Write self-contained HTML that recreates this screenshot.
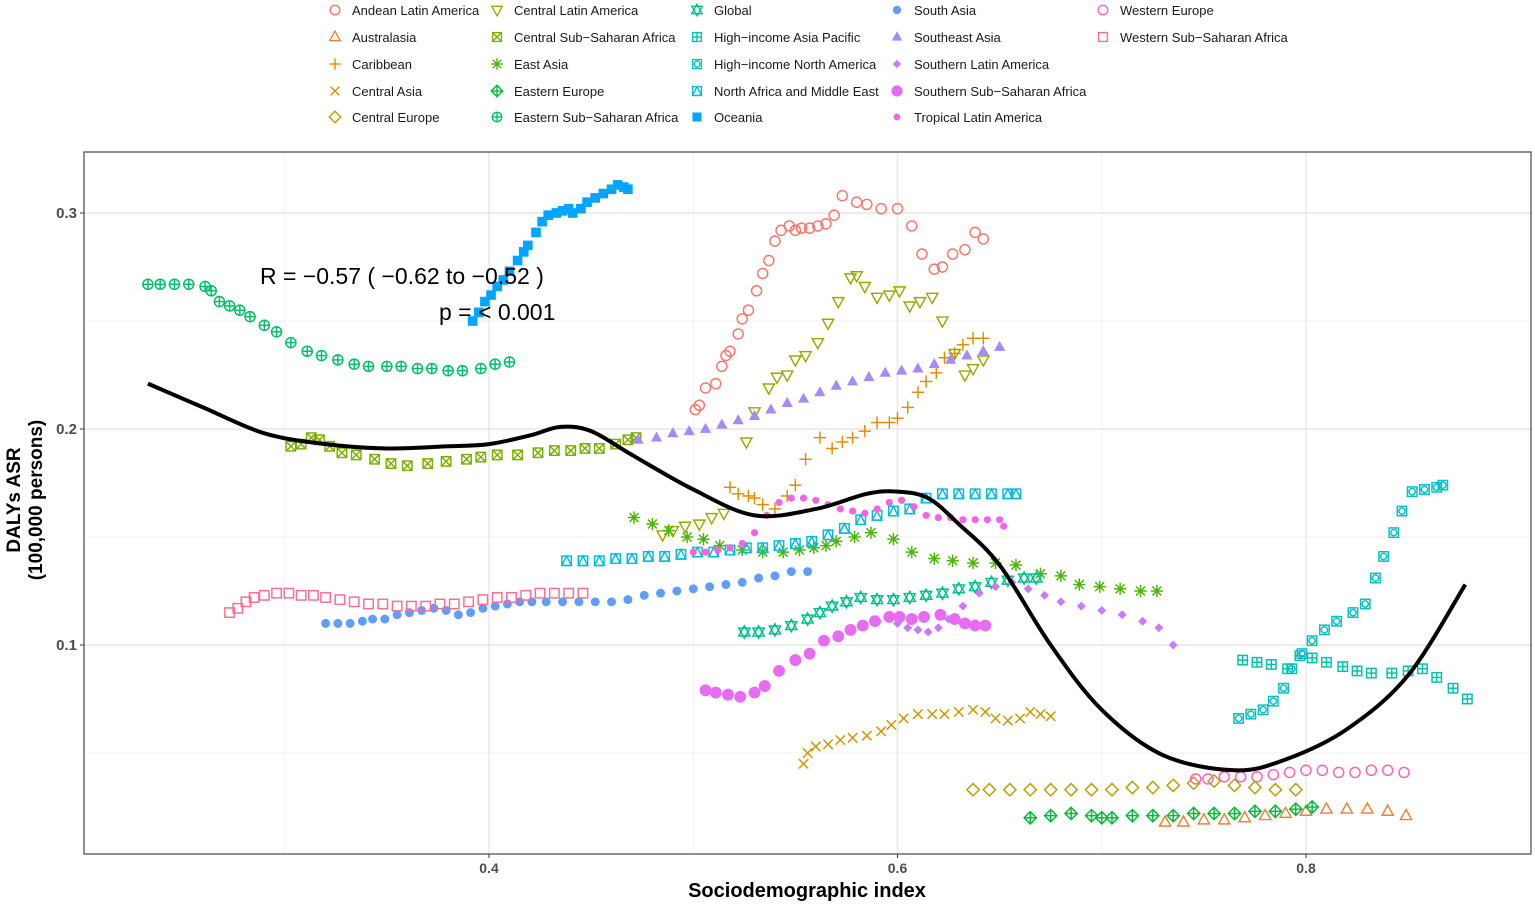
<!DOCTYPE html>
<html><head><meta charset="utf-8">
<style>
html,body{margin:0;padding:0;background:#fff;}
svg{display:block;font-family:"Liberation Sans",Arial,sans-serif;}
</style></head>
<body>
<svg id="chart" width="1535" height="906" viewBox="0 0 1535 906">
<g id="grid"></g>
<g id="series"></g>
<g id="axes"></g>
<g id="legend"></g>
<text x="260" y="284" font-size="23" fill="#000">R = −0.57 ( −0.62 to −0.52 )</text>
<text x="439" y="320" font-size="23" fill="#000">p = &lt; 0.001</text>
<text x="807" y="897" font-size="20" font-weight="bold" text-anchor="middle" fill="#000">Sociodemographic index</text>
<text transform="translate(30,500) rotate(-90)" font-size="19" font-weight="bold" text-anchor="middle" fill="#000"><tspan x="0" y="-10">DALYs ASR</tspan><tspan x="0" y="12">(100,000 persons)</tspan></text>
</svg>
<script>
const xTicks=[0.4,0.6,0.8];
const xTickLabels=["0.4","0.6","0.8"];
const yTicks=[0.1,0.2,0.3];
const yTickLabels=["0.1","0.2","0.3"];
const seriesNames=["Andean Latin America","Australasia","Caribbean","Central Asia","Central Europe","Central Latin America","Central Sub−Saharan Africa","East Asia","Eastern Europe","Eastern Sub−Saharan Africa","Global","High−income Asia Pacific","High−income North America","North Africa and Middle East","Oceania","South Asia","Southeast Asia","Southern Latin America","Southern Sub−Saharan Africa","Tropical Latin America","Western Europe","Western Sub−Saharan Africa"];
const andeanX=[.501,.503,.506,.511,.514,.516,.518,.522,.524,.527,.531,.534,.537,.540,.543,.547,.550,.553,.557,.561,.565,.569,.573,.580,.585,.592,.600,.607,.612,.618,.622,.627,.633,.638,.642];
const andeanY=[.209,.211,.219,.221,.229,.234,.236,.244,.251,.255,.264,.272,.278,.287,.292,.294,.292,.293,.293,.294,.295,.299,.308,.305,.304,.302,.302,.294,.281,.274,.275,.281,.283,.291,.288];
const australasiaX=[.731,.740,.750,.760,.770,.780,.790,.800,.810,.820,.830,.840,.849];
const australasiaY=[.018,.018,.019,.019,.020,.021,.022,.023,.024,.024,.024,.023,.021];
const caribbeanX=[.518,.522,.527,.530,.534,.540,.546,.550,.555,.562,.568,.573,.578,.584,.590,.596,.600,.605,.610,.614,.619,.623,.628,.632,.637,.642];
const caribbeanY=[.173,.170,.169,.168,.165,.163,.169,.174,.186,.196,.191,.194,.196,.199,.203,.203,.205,.210,.217,.222,.226,.233,.235,.239,.242,.242];
const centralAsiaX=[.554,.556,.560,.566,.572,.578,.585,.592,.597,.603,.610,.617,.623,.630,.637,.643,.648,.654,.660,.665,.670,.675];
const centralAsiaY=[.045,.050,.053,.054,.056,.057,.058,.060,.063,.066,.068,.068,.068,.069,.070,.069,.066,.065,.066,.069,.068,.067];
const centralEuropeX=[.637,.645,.655,.665,.675,.685,.695,.705,.715,.725,.735,.745,.755,.765,.775,.785,.795];
const centralEuropeY=[.033,.033,.033,.033,.033,.033,.033,.033,.034,.034,.035,.036,.037,.035,.034,.033,.033];
const centralLatinX=[.485,.490,.496,.503,.509,.515,.526,.530,.537,.541,.546,.550,.555,.561,.566,.571,.577,.580,.584,.590,.596,.601,.606,.611,.617,.622,.628,.633,.637,.642];
const centralLatinY=[.151,.153,.155,.156,.159,.161,.194,.208,.219,.224,.225,.232,.234,.240,.249,.259,.270,.271,.266,.261,.262,.264,.257,.259,.261,.250,.235,.225,.228,.232];
const centralSSAX=[.303,.308,.313,.317,.322,.328,.335,.344,.352,.360,.370,.379,.389,.396,.404,.414,.424,.432,.440,.447,.454,.462,.468,.472];
const centralSSAY=[.192,.193,.196,.195,.192,.189,.188,.186,.184,.183,.184,.185,.186,.187,.188,.188,.189,.190,.190,.191,.191,.193,.195,.196];
const eastAsiaX=[.471,.480,.488,.497,.505,.513,.524,.534,.544,.552,.559,.565,.570,.579,.587,.598,.607,.618,.627,.637,.648,.658,.670,.680,.689,.699,.709,.719,.727];
const eastAsiaY=[.159,.156,.153,.150,.149,.146,.144,.143,.143,.144,.145,.146,.148,.150,.152,.149,.143,.140,.139,.138,.138,.137,.133,.132,.128,.127,.126,.125,.125];
const easternEuropeX=[.665,.675,.685,.695,.700,.705,.715,.725,.735,.745,.755,.765,.775,.785,.795,.803];
const easternEuropeY=[.020,.021,.022,.021,.020,.020,.021,.021,.021,.022,.022,.022,.023,.023,.024,.025];
const easternSSAX=[.233,.239,.246,.253,.261,.264,.268,.273,.278,.283,.290,.296,.303,.311,.318,.326,.334,.341,.350,.357,.365,.372,.380,.387,.396,.403,.410];
const easternSSAY=[.267,.267,.267,.267,.266,.264,.259,.257,.255,.252,.248,.245,.240,.236,.234,.232,.230,.229,.229,.229,.228,.228,.227,.227,.228,.230,.231];
const globalX=[.525,.532,.540,.548,.556,.562,.568,.575,.582,.590,.598,.606,.614,.622,.630,.638,.646,.654,.662,.668];
const globalY=[.106,.106,.107,.109,.112,.115,.118,.120,.122,.121,.121,.122,.123,.124,.126,.127,.129,.130,.131,.131];
const hiAsiaPacificX=[.769,.776,.783,.791,.797,.803,.810,.818,.825,.832,.842,.850,.857,.864,.872,.879];
const hiAsiaPacificY=[.093,.092,.091,.089,.095,.094,.092,.090,.088,.087,.087,.088,.089,.085,.080,.075];
const hiNorthAmericaX=[.767,.773,.779,.784,.789,.793,.798,.803,.809,.815,.823,.829,.834,.838,.843,.847,.852,.858,.864,.867];
const hiNorthAmericaY=[.066,.068,.070,.074,.080,.089,.096,.102,.107,.111,.115,.119,.131,.141,.152,.162,.171,.172,.173,.174];
const nameX=[.438,.446,.454,.462,.470,.478,.486,.494,.502,.510,.518,.526,.534,.542,.550,.558,.566,.574,.582,.590,.598,.606,.614,.622,.630,.638,.646,.654,.658];
const nameY=[.139,.139,.139,.140,.140,.141,.141,.142,.143,.143,.144,.145,.145,.146,.147,.148,.151,.154,.158,.160,.162,.163,.168,.170,.170,.170,.170,.170,.170];
const oceaniaX=[.392,.395,.398,.401,.404,.407,.410,.414,.417,.419,.423,.426,.429,.433,.436,.439,.441,.445,.448,.452,.456,.460,.463,.466,.468];
const oceaniaY=[.250,.254,.259,.262,.266,.269,.273,.278,.282,.285,.291,.296,.299,.300,.301,.302,.300,.302,.305,.307,.309,.311,.313,.312,.311];
const southAsiaX=[.320,.326,.332,.338,.343,.349,.355,.361,.367,.373,.379,.385,.391,.397,.403,.409,.415,.421,.428,.436,.444,.452,.460,.468,.476,.484,.492,.500,.508,.516,.524,.532,.540,.548,.556];
const southAsiaY=[.110,.110,.110,.111,.112,.112,.114,.115,.116,.117,.116,.114,.115,.117,.118,.119,.120,.120,.120,.120,.120,.120,.120,.121,.123,.124,.125,.126,.127,.128,.129,.131,.132,.134,.134];
const southeastAsiaX=[.473,.482,.490,.498,.506,.514,.522,.530,.538,.546,.554,.562,.570,.578,.586,.594,.602,.610,.618,.626,.634,.642,.650];
const southeastAsiaY=[.195,.196,.198,.199,.200,.202,.204,.206,.209,.212,.214,.217,.220,.222,.224,.226,.227,.228,.230,.232,.234,.236,.238];
const southernLatinX=[.600,.605,.610,.615,.620,.625,.632,.640,.648,.656,.664,.672,.680,.690,.700,.710,.720,.728,.735];
const southernLatinY=[.110,.108,.107,.106,.108,.112,.118,.124,.127,.129,.126,.123,.120,.118,.116,.114,.111,.108,.100];
const southernSSAX=[.506,.511,.517,.523,.530,.535,.542,.550,.557,.564,.571,.577,.583,.589,.596,.601,.607,.613,.621,.628,.633,.638,.643];
const southernSSAY=[.079,.078,.077,.076,.078,.081,.088,.093,.096,.102,.104,.107,.109,.111,.113,.113,.112,.113,.114,.112,.110,.109,.109];
const tropicalLatinX=[.500,.506,.512,.518,.524,.530,.536,.542,.548,.554,.560,.566,.572,.578,.584,.590,.596,.602,.608,.614,.620,.626,.632,.638,.644,.650,.652];
const tropicalLatinY=[.143,.143,.144,.145,.147,.152,.160,.166,.168,.168,.167,.165,.163,.162,.161,.163,.166,.167,.164,.160,.159,.159,.158,.158,.158,.158,.155];
const westernEuropeX=[.746,.752,.760,.768,.776,.784,.792,.800,.808,.816,.824,.832,.840,.848];
const westernEuropeY=[.038,.038,.039,.039,.039,.040,.041,.042,.042,.041,.041,.042,.042,.041];
const westernSSAX=[.273,.277,.281,.285,.290,.296,.302,.308,.314,.320,.327,.334,.341,.348,.355,.362,.369,.376,.383,.390,.397,.404,.411,.418,.425,.432,.439,.446];
const westernSSAY=[.115,.117,.120,.122,.123,.124,.124,.123,.123,.122,.121,.120,.119,.119,.118,.118,.118,.119,.119,.120,.121,.122,.122,.123,.124,.124,.124,.124];
const fitX=[.233,.260,.290,.320,.350,.380,.400,.420,.435,.450,.470,.500,.530,.560,.585,.600,.615,.630,.650,.675,.700,.730,.765,.790,.820,.850,.878];
const fitY=[.221,.210,.198,.193,.191,.192,.193,.197,.201,.199,.188,.172,.160,.163,.170,.171,.168,.156,.137,.100,.070,.049,.042,.047,.061,.086,.128];

const seriesX=[andeanX,australasiaX,caribbeanX,centralAsiaX,centralEuropeX,centralLatinX,centralSSAX,eastAsiaX,easternEuropeX,easternSSAX,globalX,hiAsiaPacificX,hiNorthAmericaX,nameX,oceaniaX,southAsiaX,southeastAsiaX,southernLatinX,southernSSAX,tropicalLatinX,westernEuropeX,westernSSAX];
const seriesY=[andeanY,australasiaY,caribbeanY,centralAsiaY,centralEuropeY,centralLatinY,centralSSAY,eastAsiaY,easternEuropeY,easternSSAY,globalY,hiAsiaPacificY,hiNorthAmericaY,nameY,oceaniaY,southAsiaY,southeastAsiaY,southernLatinY,southernSSAY,tropicalLatinY,westernEuropeY,westernSSAY];
const colors=["#F8766D","#EC8239","#DE8C00","#CD9600","#B79F00","#9DA700","#7CAE00","#49B500","#00BA38","#00BE67","#00C08B","#00C1AA","#00BFC4","#00BBDC","#00A5FF","#619CFF","#A58AFF","#C77CFF","#E76BF3","#F564E3","#FF63B6","#FF6C91"];
const shapes=["cO","tU","plus","x","dia","tD","sqX","ast","diaP","cP","star","sqP","sqC","sqT","sqF","cF","tF","dF","cB","cS","cO","sqO"];

const NS="http://www.w3.org/2000/svg";
const L=84,R=1531,T=152,B=854;
function sx(v){return 489+(v-0.4)*2042.5;}
function sy(v){return 213+(0.3-v)*2160;}
function mk(tag,attrs,parent){const e=document.createElementNS(NS,tag);for(const k in attrs)e.setAttribute(k,attrs[k]);if(parent)parent.appendChild(e);return e;}

const grid=document.getElementById('grid');
const bg=mk('rect',{x:L,y:T,width:R-L,height:B-T,fill:'#fff'},grid);


[0.3,0.5,0.7].forEach(v=>{const l=mk('line',{x1:sx(v),x2:sx(v),y1:T,y2:B,stroke:'#f2f2f2','stroke-width':1},grid);});
[0.05,0.15,0.25].forEach(v=>{const l=mk('line',{x1:L,x2:R,y1:sy(v),y2:sy(v),stroke:'#f2f2f2','stroke-width':1},grid);});
xTicks.forEach(v=>{const l=mk('line',{x1:sx(v),x2:sx(v),y1:T,y2:B,stroke:'#e6e6e6','stroke-width':1.4},grid);});
yTicks.forEach(v=>{const l=mk('line',{x1:L,x2:R,y1:sy(v),y2:sy(v),stroke:'#e6e6e6','stroke-width':1.4},grid);});

function marker(shape,cx,cy,c,parent,s){
  s=s||1;const g=mk('g',{transform:`translate(${cx},${cy}) scale(${s})`},parent);
  const st={fill:'none',stroke:c,'stroke-width':1.3};
  const tri=(d)=>mk('polygon',Object.assign({points:d>0?"0,-5.5 5,3.5 -5,3.5":"0,5.5 5,-3.5 -5,-3.5"},st),g);
  const sq=()=>mk('rect',Object.assign({x:-4.2,y:-4.2,width:8.4,height:8.4},st),g);
  const pl=(r)=>{mk('line',Object.assign({x1:-r,x2:r,y1:0,y2:0},st),g);mk('line',Object.assign({x1:0,x2:0,y1:-r,y2:r},st),g);};
  const xx=(r)=>{mk('line',Object.assign({x1:-r,x2:r,y1:-r,y2:r},st),g);mk('line',Object.assign({x1:-r,x2:r,y1:r,y2:-r},st),g);};
  const dia=()=>mk('polygon',Object.assign({points:"0,-5.5 5.5,0 0,5.5 -5.5,0"},st),g);
  switch(shape){
    case 'cO':mk('circle',Object.assign({r:4.5},st),g);break;
    case 'tU':tri(1);break;
    case 'tD':tri(-1);break;
    case 'plus':pl(5.5);break;
    case 'x':xx(4.2);break;
    case 'dia':dia();break;
    case 'sqX':sq();xx(4.2);break;
    case 'ast':pl(5.5);xx(4);break;
    case 'diaP':dia();pl(5.5);break;
    case 'cP':mk('circle',Object.assign({r:4.5},st),g);pl(4.5);break;
    case 'star':tri(1);tri(-1);break;
    case 'sqP':sq();pl(4.2);break;
    case 'sqC':sq();mk('circle',Object.assign({r:2.8},st),g);break;
    case 'sqT':sq();mk('polygon',Object.assign({points:"0,-4.2 4.2,4.2 -4.2,4.2"},st),g);break;
    case 'sqF':mk('rect',{x:-4.3,y:-4.3,width:8.6,height:8.6,fill:c},g);break;
    case 'cF':mk('circle',{r:4,fill:c},g);break;
    case 'tF':mk('polygon',{points:"0,-5.5 5,3.5 -5,3.5",fill:c},g);break;
    case 'dF':mk('polygon',{points:"0,-4 4,0 0,4 -4,0",fill:c},g);break;
    case 'cB':mk('circle',{r:5.3,fill:c},g);break;
    case 'cS':mk('circle',{r:3.2,fill:c},g);break;
    case 'sqO':sq();break;
  }
  return g;
}

const sl=document.getElementById('series');
seriesX.forEach((xs,i)=>{
  const g=mk('g',{},sl);
  
  
  xs.forEach((xv,j)=>{
    const m=marker(shapes[i],sx(xv),sy(seriesY[i][j]),colors[i],g,1.12);
    
    
  });
});

const pts=fitX.map((v,i)=>[sx(v),sy(fitY[i])]);
let d=`M${pts[0][0]},${pts[0][1]}`;
for(let i=0;i<pts.length-1;i++){
  const p0=pts[Math.max(0,i-1)],p1=pts[i],p2=pts[i+1],p3=pts[Math.min(pts.length-1,i+2)];
  const c1=[p1[0]+(p2[0]-p0[0])/6,p1[1]+(p2[1]-p0[1])/6],c2=[p2[0]-(p3[0]-p1[0])/6,p2[1]-(p3[1]-p1[1])/6];
  d+=` C${c1[0]},${c1[1]} ${c2[0]},${c2[1]} ${p2[0]},${p2[1]}`;
}
const fit=mk('path',{d:d,fill:'none',stroke:'#000','stroke-width':4},sl);



const ax=document.getElementById('axes');
const border=mk('rect',{x:L,y:T,width:R-L,height:B-T,fill:'none',stroke:'#555','stroke-width':1.3},ax);


xTicks.forEach((v,i)=>{
  const t=mk('line',{x1:sx(v),x2:sx(v),y1:B,y2:B+4,stroke:'#333'},ax);
  
  
  const tx=mk('text',{x:sx(v),y:B+19,'font-size':14,'text-anchor':'middle',fill:'#4d4d4d','font-weight':'bold'},ax);
  tx.textContent=xTickLabels[i];
  
  
});
yTicks.forEach((v,i)=>{
  const t=mk('line',{x1:L-4,x2:L,y1:sy(v),y2:sy(v),stroke:'#333'},ax);
  
  
  const tx=mk('text',{x:L-7,y:sy(v)+5,'font-size':15,'text-anchor':'end',fill:'#4d4d4d','font-weight':'bold'},ax);
  tx.textContent=yTickLabels[i];
  
  
});

const lg=document.getElementById('legend');
const colX=[335,497,697,897,1103];
const rowY=[10,37,64,91,117];
seriesNames.forEach((n,i)=>{
  const c=Math.floor(i/5),r=i%5;
  const g=mk('g',{},lg);
  
  
  marker(shapes[i],colX[c],rowY[r],colors[i],g,1.05);
  const t=mk('text',{x:colX[c]+17,y:rowY[r]+5,'font-size':13,fill:'#1a1a1a'},g);
  t.textContent=n;
});
</script>
</body></html>
